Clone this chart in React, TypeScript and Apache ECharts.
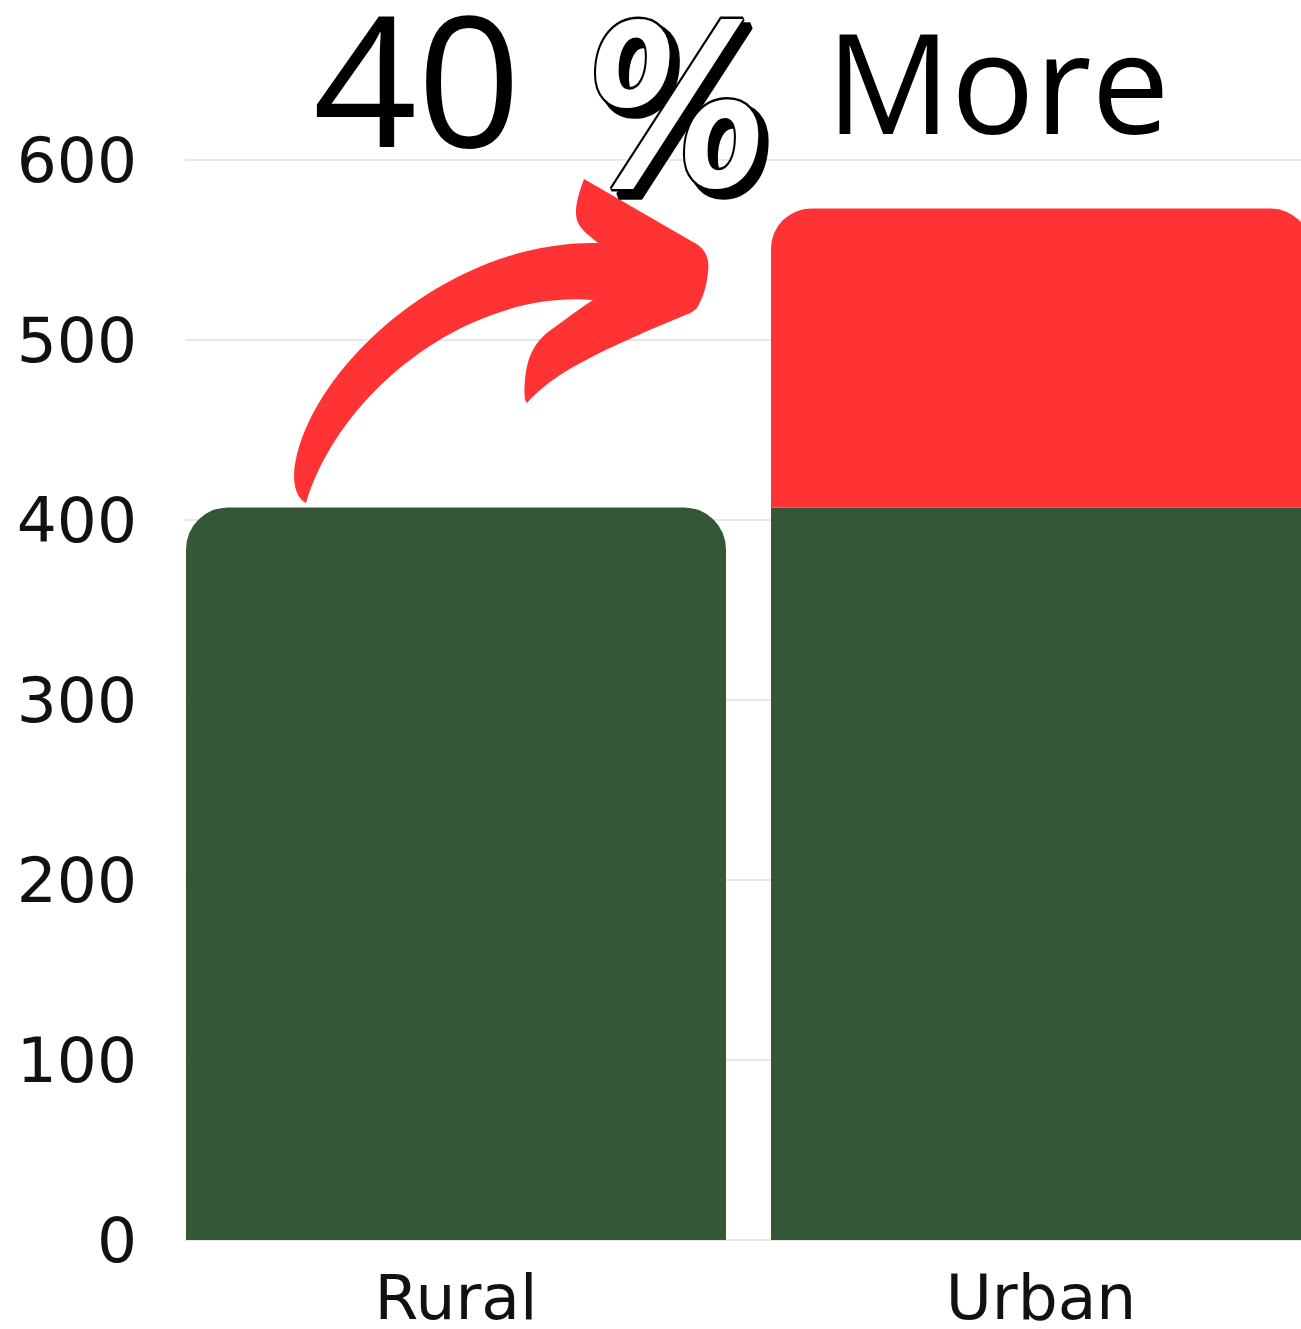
import React, { useEffect, useRef } from "react";
import * as echarts from "echarts";

const categories = ["Rural", "Urban"];
const baseValues = [407, 407];
const extraValues: (number | null)[] = [null, 166];
const yMin = 0;
const yMax = 600;
const yInterval = 100;
const titleLeft = "40";
const titleMid = "%";
const titleRight = "More";

const ARROW_D =
  "M 306 503 C 300 500, 294 492, 294 475 C 300 380, 440 240, 598 243 C 590 236, 580 230, 577 220 " +
  "C 574 210, 578 195, 584 179 L 693 242 C 705 248, 710 258, 708 272 C 707 285, 703 298, 697 308 " +
  "C 692 313, 688 314, 683 316 C 650 330, 600 350, 560 375 C 545 385, 535 394, 527 403 " +
  "C 524 400, 524 390, 525 380 C 527 360, 532 345, 548 332 C 565 320, 580 308, 593 300 " +
  "C 470 290, 340 390, 306 503 Z";

let registered = false;
function ensureShapes() {
  if (registered) return;
  registered = true;
  echarts.graphic.registerShape(
    "arrowShape",
    (echarts.graphic as any).extendPath(ARROW_D, {})
  );
}

const CHART_W = 1340;

export default function App() {
  const ref = useRef<HTMLDivElement>(null);
  useEffect(() => {
    ensureShapes();
    const chart = echarts.init(ref.current!, null, { renderer: "svg" });
    const green = "#345837";
    const red = "#ff3333";
    const labelFont = "DejaVu Sans";
    const pctFont = "italic bold 175px 'DejaVu Sans'";
    chart.setOption({
      animation: false,
      backgroundColor: "#ffffff",
      grid: [
        { left: 185, right: CHART_W - 1301, top: 160, bottom: 89 },
        { left: 163.5, width: 1170, top: 160, bottom: 89 },
      ],
      xAxis: [
        { type: "category", gridIndex: 0, data: categories, show: false },
        {
          type: "category",
          gridIndex: 1,
          data: categories,
          axisLine: { show: false },
          axisTick: { show: false },
          axisLabel: {
            interval: 0,
            margin: 28,
            fontSize: 63,
            lineHeight: 58,
            fontFamily: labelFont,
            color: "#111",
          },
        },
      ],
      yAxis: [
        {
          type: "value",
          gridIndex: 0,
          min: yMin,
          max: yMax,
          interval: yInterval,
          axisLine: { show: false },
          axisTick: { show: false },
          axisLabel: {
            margin: 48,
            fontSize: 63,
            fontFamily: labelFont,
            color: "#111",
          },
          splitLine: { lineStyle: { color: "#e0e0e0", width: 1.5 } },
        },
        {
          type: "value",
          gridIndex: 1,
          min: yMin,
          max: yMax,
          interval: yInterval,
          show: false,
          splitLine: { show: false },
        },
      ],
      series: [
        {
          type: "bar",
          name: "Base",
          xAxisIndex: 1,
          yAxisIndex: 1,
          stack: "total",
          barWidth: 540,
          itemStyle: { color: green },
          data: baseValues.map((v, i) => ({
            value: v,
            itemStyle: { borderRadius: extraValues[i] == null ? [42, 42, 0, 0] : 0 },
          })),
        },
        {
          type: "bar",
          name: "Extra",
          xAxisIndex: 1,
          yAxisIndex: 1,
          stack: "total",
          barWidth: 540,
          itemStyle: { color: red, borderRadius: [40, 40, 0, 0] },
          data: extraValues.map((v) => (v == null ? "-" : v)),
        },
      ],
      graphic: [
        {
          type: "arrowShape",
          x: 0,
          y: 0,
          z: 100,
          style: { fill: red },
        },
        {
          type: "text",
          x: 313,
          y: 76,
          z: 100,
          style: {
            text: titleLeft,
            font: "182px 'Open Sans'",
            lineHeight: 130,
            fill: "#000",
            verticalAlign: "middle",
            align: "left",
          },
        },
        {
          type: "group",
          x: 586,
          y: 109,
          scaleX: 1.04,
          scaleY: 1.28,
          z: 101,
          children: [
            {
              type: "text",
              x: 7,
              y: 5,
              z: 101,
              style: {
                text: titleMid,
                font: pctFont,
                lineHeight: 110,
                fill: "#000",
                stroke: "#000",
                lineWidth: 6,
                verticalAlign: "middle",
                align: "left",
              },
            },
            {
              type: "text",
              x: 0,
              y: 0,
              z: 102,
              style: {
                text: titleMid,
                font: pctFont,
                lineHeight: 110,
                fill: "#fff",
                stroke: "#000",
                lineWidth: 4,
                verticalAlign: "middle",
                align: "left",
              },
            },
          ],
        },
        {
          type: "text",
          x: 826,
          y: 80,
          z: 100,
          style: {
            text: titleRight,
            font: "139px 'Open Sans'",
            lineHeight: 110,
            fill: "#000",
            verticalAlign: "middle",
            align: "left",
          },
        },
      ],
    });
    return () => chart.dispose();
  }, []);
  return (
    <div
      style={{
        position: "absolute",
        left: 0,
        top: 0,
        width: 1301,
        height: 1329,
        overflow: "hidden",
      }}
    >
      <div ref={ref} style={{ width: CHART_W, height: 1329 }} />
    </div>
  );
}
